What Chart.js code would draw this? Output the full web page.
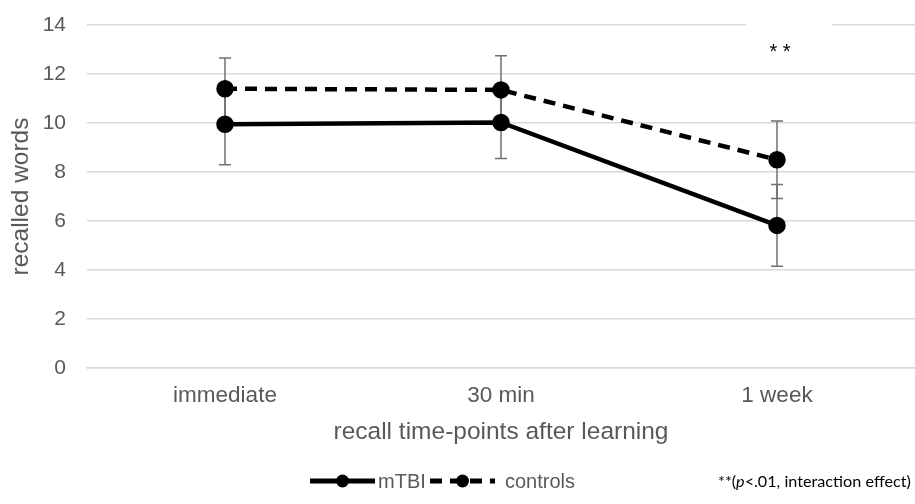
<!DOCTYPE html>
<html lang="en">
<head>
<meta charset="UTF-8">
<title>Recalled words</title>
<script src="https://cdn.jsdelivr.net/npm/chart.js"></script>
<style>
    body { margin: 0; background: #fff; }
    .chart-container { width: 915px; height: 504px; }
</style>
</head>
<body>
<div class="chart-container">
    <canvas id="chartCanvas" width="915" height="504"></canvas>
</div>
<script>
    const timePoints = ['immediate', '30 min', '1 week'];
    const mtbiWords = [9.95, 10.02, 5.82];
    const mtbiError = [1.65, 1.47, 1.67];
    const controlWords = [11.4, 11.35, 8.5];
    const controlError = [1.25, 1.4, 1.58];
    const yTicks = [0, 2, 4, 6, 8, 10, 12, 14];
    const noteText = '**(p<.01, interaction effect)';

    const gray = '#595959';
    const axisFont = 'Liberation Sans, Arial, sans-serif';

    // error bars behind the lines and markers
    const errorBars = {
        id: 'errorBars',
        beforeDatasetsDraw(chart) {
            const ctx = chart.ctx;
            const x = chart.scales.x, y = chart.scales.y;
            ctx.save();
            ctx.strokeStyle = '#707070';
            ctx.lineWidth = 1.5;
            chart.data.datasets.forEach(ds => {
                ds.data.forEach((v, i) => {
                    const px = x.getPixelForValue(i);
                    const top = y.getPixelForValue(v + ds.errors[i]);
                    const bot = y.getPixelForValue(v - ds.errors[i]);
                    ctx.beginPath();
                    ctx.moveTo(px, top); ctx.lineTo(px, bot);
                    ctx.moveTo(px - 6, top); ctx.lineTo(px + 6, top);
                    ctx.moveTo(px - 6, bot); ctx.lineTo(px + 6, bot);
                    ctx.stroke();
                });
            });
            // white label box for the significance mark
            const cx = x.getPixelForValue(2) + 12;
            const t = y.getPixelForValue(14), b = y.getPixelForValue(12) - 1;
            ctx.fillStyle = '#fff';
            ctx.fillRect(cx - 43, t - 2, 86, b - t + 1);
            ctx.fillStyle = '#000';
            ctx.font = '20px ' + axisFont;
            ctx.textAlign = 'center';
            ctx.textBaseline = 'middle';
            ctx.fillText('* *', cx - 9, (t + b) / 2 + 3);
            ctx.restore();
        }
    };

    // legend with line + marker samples, plus the footnote
    const bottomLegend = {
        id: 'bottomLegend',
        afterDraw(chart) {
            const ctx = chart.ctx;
            const yy = 481;
            ctx.save();
            const items = [
                { ds: chart.data.datasets[0], x0: 310, x1: 375, tx: 378 },
                { ds: chart.data.datasets[1], x0: 430, x1: 495, tx: 505 }
            ];
            items.forEach(it => {
                ctx.strokeStyle = '#000';
                ctx.lineWidth = 5;
                ctx.setLineDash(it.ds.borderDash || []);
                ctx.beginPath();
                ctx.moveTo(it.x0, yy); ctx.lineTo(it.x1, yy);
                ctx.stroke();
                ctx.setLineDash([]);
                ctx.fillStyle = '#000';
                ctx.beginPath();
                ctx.arc((it.x0 + it.x1) / 2, yy, 6.5, 0, Math.PI * 2);
                ctx.fill();
                ctx.fillStyle = gray;
                ctx.font = '20px ' + axisFont;
                ctx.textBaseline = 'middle';
                ctx.textAlign = 'left';
                ctx.fillText(it.ds.label, it.tx, yy + 1);
            });
            // footnote with italic p
            ctx.fillStyle = '#000';
            ctx.textBaseline = 'middle';
            const parts = [['**(', 'normal'], ['p', 'italic'], [noteText.slice(4), 'normal']];
            let nx = 718;
            parts.forEach(([s, style]) => {
                ctx.font = style + ' 16.2px Lato, sans-serif';
                ctx.fillText(s, nx, yy + 1);
                nx += ctx.measureText(s).width;
            });
            ctx.restore();
        }
    };

    new Chart(document.getElementById('chartCanvas').getContext('2d'), {
        type: 'line',
        data: {
            labels: timePoints,
            datasets: [
                {
                    label: 'mTBI',
                    data: mtbiWords,
                    errors: mtbiError,
                    borderColor: '#000',
                    backgroundColor: '#000',
                    borderWidth: 4.5,
                    pointRadius: 6.5,
                    pointHoverRadius: 6.5,
                    tension: 0
                },
                {
                    label: 'controls',
                    data: controlWords,
                    errors: controlError,
                    borderColor: '#000',
                    backgroundColor: '#000',
                    borderWidth: 4.5,
                    borderDash: [12, 8],
                    pointRadius: 6.5,
                    pointHoverRadius: 6.5,
                    tension: 0
                }
            ]
        },
        options: {
            responsive: false,
            animation: false,
            layout: { autoPadding: false, padding: { left: 0, right: 0, top: 25, bottom: 0 } },
            plugins: {
                legend: { display: false },
                tooltip: { enabled: false }
            },
            scales: {
                x: {
                    offset: true,
                    afterFit(s) { s.height = 136; s.paddingLeft = 0; s.paddingRight = 0; },
                    grid: { display: false, drawTicks: false },
                    border: { color: '#d9d9d9', width: 1.5 },
                    ticks: { color: gray, font: { family: axisFont, size: 22.5 }, padding: 14 },
                    title: {
                        display: true,
                        text: 'recall time-points after learning',
                        color: gray,
                        font: { family: axisFont, size: 24.5 },
                        padding: { top: 0, bottom: 57 }
                    }
                },
                y: {
                    min: 0,
                    max: 14,
                    afterFit(s) { s.width = 87; s.paddingTop = 0; s.paddingBottom = 0; },
                    afterBuildTicks(axis) { axis.ticks = yTicks.map(v => ({ value: v })); },
                    grid: { color: '#d9d9d9', lineWidth: 1.5, drawTicks: false },
                    border: { display: false },
                    ticks: { color: gray, font: { family: axisFont, size: 21 }, padding: 21 },
                    title: {
                        display: true,
                        text: 'recalled words',
                        color: gray,
                        font: { family: axisFont, size: 24.5 },
                        padding: { top: 7, bottom: 0 }
                    }
                }
            }
        },
        plugins: [errorBars, bottomLegend]
    });
</script>
</body>
</html>
